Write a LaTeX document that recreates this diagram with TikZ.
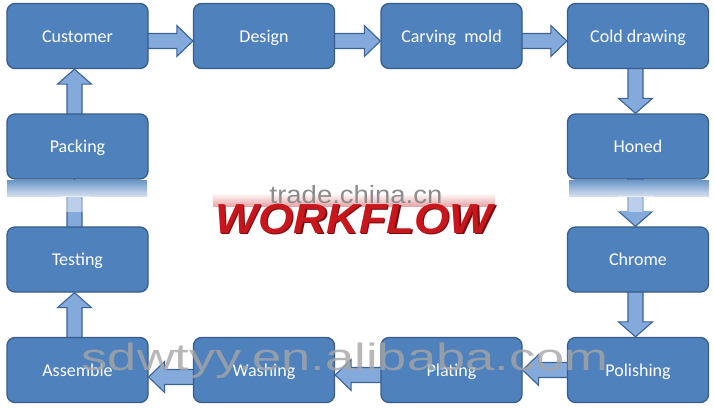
\documentclass[tikz,border=0pt]{standalone}
\usepackage{fontspec}
\setmainfont{Carlito}
\newfontfamily\arialfont{Liberation Sans}
\usetikzlibrary{calc,backgrounds}
\definecolor{boxfill}{HTML}{4F81BD}
\definecolor{boxline}{HTML}{385D8A}
\definecolor{arrfill}{HTML}{84A9DB}
\definecolor{arrline}{HTML}{3A639A}
\definecolor{wfred}{HTML}{C8161D}
\definecolor{wfdark}{HTML}{7A0C10}
\newcommand\arrowRight[3]{\draw[blockarrow] ($(#1.east)+(-3,#3-7.5)$) -- ($(#2.west)+(-16,#3-7.5)$) -- ($(#2.west)+(-16,#3-15.5)$) -- ($(#2.west)+(0,#3)$) -- ($(#2.west)+(-16,#3+15.5)$) -- ($(#2.west)+(-16,#3+7.5)$) -- ($(#1.east)+(-3,#3+7.5)$) -- cycle;}
\newcommand\arrowLeft[3]{\draw[blockarrow] ($(#1.west)+(3,#3-7.5)$) -- ($(#2.east)+(16,#3-7.5)$) -- ($(#2.east)+(16,#3-15.5)$) -- ($(#2.east)+(0,#3)$) -- ($(#2.east)+(16,#3+15.5)$) -- ($(#2.east)+(16,#3+7.5)$) -- ($(#1.west)+(3,#3+7.5)$) -- cycle;}
\newcommand\arrowDown[3]{\draw[blockarrow] ($(#1.south)+(#3-7.5,-3)$) -- ($(#2.north)+(#3-7.5,-15)$) -- ($(#2.north)+(#3-17,-15)$) -- ($(#2.north)+(#3,0)$) -- ($(#2.north)+(#3+17,-15)$) -- ($(#2.north)+(#3+7.5,-15)$) -- ($(#1.south)+(#3+7.5,-3)$) -- cycle;}
\newcommand\arrowUp[3]{\draw[blockarrow] ($(#1.north)+(#3-7.5,3)$) -- ($(#2.south)+(#3-7.5,15)$) -- ($(#2.south)+(#3-17,15)$) -- ($(#2.south)+(#3,0)$) -- ($(#2.south)+(#3+17,15)$) -- ($(#2.south)+(#3+7.5,15)$) -- ($(#1.north)+(#3+7.5,3)$) -- cycle;}
\begin{document}
\begin{tikzpicture}[x=1pt,y=-1pt,
  stepbox/.style={draw=boxline, line width=1.3pt, fill=boxfill, rounded corners=8pt,
    minimum width=141pt, minimum height=65pt, text=white, inner sep=0pt,
    text height=12pt, text depth=0pt,
    font=\fontsize{18}{20}\selectfont},
  blockarrow/.style={draw=arrline, line width=1.1pt, fill=arrfill, line join=miter}]
\useasboundingbox (0,0) rectangle (714,407);

\node[stepbox] (customer) at (77.5,36) {Customer};
\node[stepbox] (design) at (264,36) {Design};
\node[stepbox] (carving) at (451.5,36) {Carving~~mold};
\node[stepbox] (cold) at (638,36) {Cold drawing};
\node[stepbox] (honed) at (638,146.5) {Honed};
\node[stepbox] (chrome) at (638,259.5) {Chrome};
\node[stepbox] (polish) at (638,370) {Polishing};
\node[stepbox] (plating) at (451.5,370) {Plating};
\node[stepbox] (washing) at (264,370) {Washing};
\node[stepbox] (assemble) at (77.5,370) {Assemble};
\node[stepbox] (testing) at (77.5,259.5) {Testing};
\node[stepbox] (packing) at (77.5,146.5) {Packing};

\begin{pgfonlayer}{background}
\fill[white] (0,0) rectangle (714,407);
\arrowRight{customer}{design}{5}
\arrowRight{design}{carving}{5}
\arrowRight{carving}{cold}{5}
\arrowDown{cold}{honed}{-2.5}
\arrowDown{honed}{chrome}{-2.5}
\arrowDown{chrome}{polish}{-2.5}
\arrowLeft{polish}{plating}{0}
\arrowLeft{plating}{washing}{5}
\arrowLeft{washing}{assemble}{7}
\arrowUp{assemble}{testing}{-3}
\arrowUp{testing}{packing}{-3}
\arrowUp{packing}{customer}{-3}
\end{pgfonlayer}

% blurred reflection bands
\shade[top color=boxfill!85, bottom color=boxfill!25] (7,180) rectangle (147,196);
\shade[top color=boxfill!85, bottom color=boxfill!25] (569,180) rectangle (709,196);
\fill[white, opacity=0.45] (60,196) rectangle (90,212);
\fill[white, opacity=0.45] (618,196) rectangle (654,212);

% WORKFLOW title
\shade[top color=white, bottom color=wfred!55, opacity=0.7] (213,193) rectangle (495,206);
\node[font=\arialfont\bfseries\itshape\fontsize{42}{42}\selectfont, text=wfdark, xscale=1.08, anchor=base] (wfshadow) at (355.5,234.5) {WORKFLOW};
\node[font=\arialfont\bfseries\itshape\fontsize{42}{42}\selectfont, text=wfred, xscale=1.08, anchor=base] (wf) at (354,233) {WORKFLOW};

% watermarks
\node[font=\arialfont\fontsize{25}{25}\selectfont, text=black!45, anchor=base, xscale=1.1] (tc) at (356,203) {trade.china.cn};
\node[font=\arialfont\fontsize{38}{38}\selectfont, text=black!35, opacity=0.8, anchor=base, xscale=1.38] (wm) at (345,370) {sdwtyy.en.alibaba.com};
\end{tikzpicture}
\end{document}
